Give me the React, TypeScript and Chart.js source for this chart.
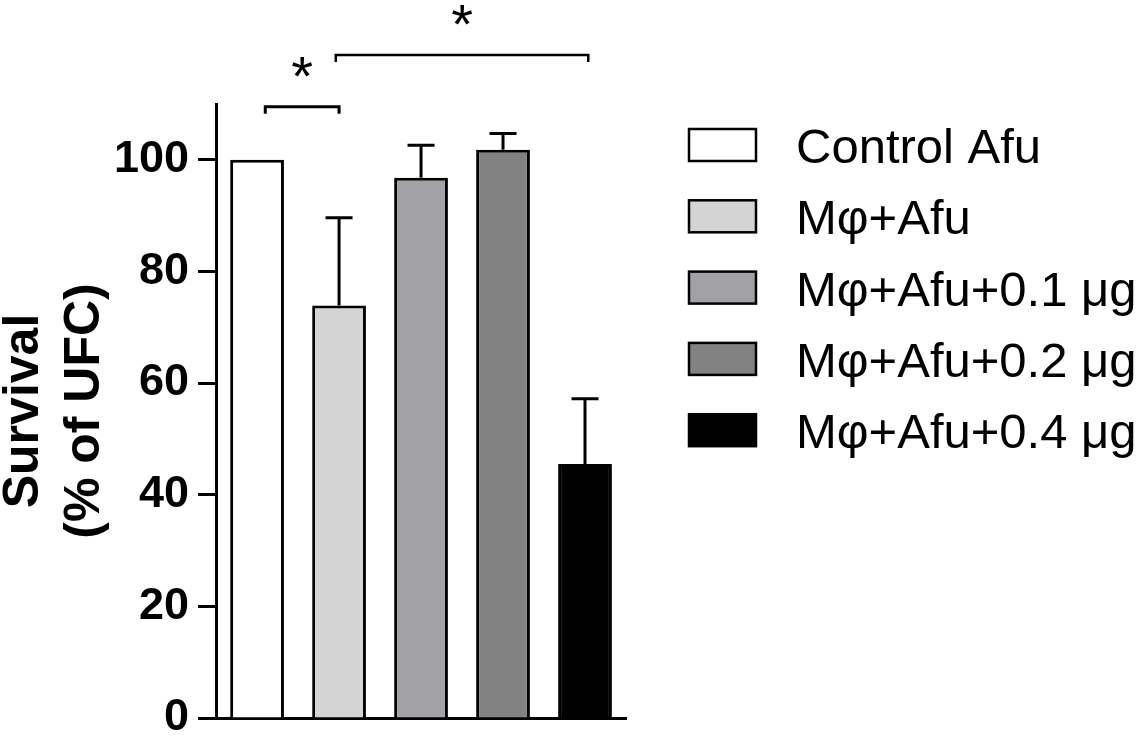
import { useEffect, useRef } from 'react';
import { Chart, registerables } from 'chart.js';

Chart.register(...registerables);

// ---- data ----
const categories = ['Control Afu', 'Mφ+Afu', 'Mφ+Afu+0.1 μg', 'Mφ+Afu+0.2 μg', 'Mφ+Afu+0.4 μg'];
const survival = [100, 73.9, 96.8, 101.8, 45.5];
const errors = [0, 15.7, 5.8, 2.9, 11.7];
const barColors = ['#ffffff', '#d4d4d4', '#a2a2a6', '#828282', '#000000'];
const yTicks = [0, 20, 40, 60, 80, 100];
const yTitle = ['Survival', '(% of UFC)'];
// significance brackets (category index positions, y value level)
const compFrom = [0.1, 0.96];
const compTo = [1.0, 4.04];
const compLevel = [109.5, 118.8];
const compLabel = ['*', '*'];

const FONT = 'Arial, "Liberation Sans", sans-serif';

const errorBarPlugin = {
  id: 'errorBars',
  afterDatasetsDraw(chart: any) {
    const ctx = chart.ctx;
    const meta = chart.getDatasetMeta(0);
    const y = chart.scales.y;
    ctx.save();
    ctx.strokeStyle = '#000';
    ctx.lineWidth = 3;
    meta.data.forEach((bar: any, i: number) => {
      if (!errors[i]) return;
      const top = y.getPixelForValue(survival[i] + errors[i]);
      const x = bar.x;
      ctx.beginPath();
      ctx.moveTo(x, bar.y);
      ctx.lineTo(x, top);
      ctx.moveTo(x - 13.5, top);
      ctx.lineTo(x + 13.5, top);
      ctx.stroke();
    });
    ctx.restore();
  },
};

const significancePlugin = {
  id: 'significance',
  afterDraw(chart: any) {
    const ctx = chart.ctx;
    const xs = chart.scales.x;
    const ys = chart.scales.y;
    ctx.save();
    ctx.strokeStyle = '#000';
    ctx.fillStyle = '#000';
    compLevel.forEach((lvl, i) => {
      const x1 = xs.getPixelForValue(compFrom[i]);
      const x2 = xs.getPixelForValue(compTo[i]);
      const yy = ys.getPixelForValue(lvl);
      ctx.lineWidth = i === 0 ? 3 : 2.5;
      ctx.beginPath();
      ctx.moveTo(x1, yy + 7);
      ctx.lineTo(x1, yy);
      ctx.lineTo(x2, yy);
      ctx.lineTo(x2, yy + 7);
      ctx.stroke();
      ctx.font = '56px ' + FONT;
      ctx.textAlign = 'center';
      ctx.textBaseline = 'alphabetic';
      const m = ctx.measureText(compLabel[i]);
      const cy = yy - 40;
      const base = cy + (m.actualBoundingBoxAscent - m.actualBoundingBoxDescent) / 2;
      ctx.fillText(compLabel[i], (x1 + x2) / 2, base);
    });
    ctx.restore();
  },
};

const sideLegendPlugin = {
  id: 'sideLegend',
  afterDraw(chart: any) {
    const ctx = chart.ctx;
    const x0 = chart.chartArea.right + 63;
    const y0 = 129;
    const boxW = 67;
    const boxH = 32;
    const step = 71.3;
    const textX = x0 + 107;
    ctx.save();
    ctx.font = '49px ' + FONT;
    ctx.textAlign = 'left';
    ctx.textBaseline = 'alphabetic';
    categories.forEach((label, i) => {
      const y = y0 + i * step;
      ctx.fillStyle = barColors[i];
      ctx.fillRect(x0, y, boxW, boxH);
      ctx.lineWidth = 2.5;
      ctx.strokeStyle = '#000';
      ctx.strokeRect(x0, y, boxW, boxH);
      ctx.fillStyle = '#000';
      ctx.fillText(label, textX, y + boxH + 2);
    });
    ctx.restore();
  },
};

export default function App() {
  const ref = useRef<HTMLCanvasElement>(null);
  useEffect(() => {
    if (!ref.current) return;
    const chart = new Chart(ref.current, {
      type: 'bar',
      data: {
        labels: categories,
        datasets: [
          {
            data: survival,
            backgroundColor: barColors,
            borderColor: '#000',
            borderWidth: 3,
            barPercentage: 0.656,
            categoryPercentage: 1,
          },
        ],
      },
      options: {
        animation: false,
        responsive: false,
        layout: { padding: { left: 0, top: 104, right: 516, bottom: 19 } },
        plugins: { legend: { display: false }, tooltip: { enabled: false } },
        scales: {
          x: {
            type: 'category',
            offset: true,
            z: 1,
            grid: { display: false, drawTicks: false },
            ticks: { display: false },
            border: { display: true, color: '#000', width: 3 },
          },
          y: {
            min: 0,
            max: 110,
            z: 1,
            afterBuildTicks: (scale: any) => {
              scale.ticks = yTicks.map((v) => ({ value: v }));
            },
            grid: {
              display: true,
              drawOnChartArea: false,
              drawTicks: true,
              tickLength: 18,
              tickWidth: 3,
              tickColor: '#000',
              color: '#000',
            },
            border: { display: true, color: '#000', width: 3 },
            ticks: {
              color: '#000',
              padding: 9,
              font: { family: FONT, size: 45, weight: 'bold', lineHeight: 0.4 },
            },
            title: {
              display: true,
              text: yTitle,
              color: '#000',
              font: { family: FONT, size: 50, weight: 'bold', lineHeight: 1.22 },
              padding: { top: -6, bottom: -11 },
            },
          },
        },
      } as any,
      plugins: [errorBarPlugin, significancePlugin, sideLegendPlugin],
    });
    return () => chart.destroy();
  }, []);
  return (
    <canvas
      ref={ref}
      width={1142}
      height={737}
      style={{ position: 'fixed', left: 0, top: 0, width: '1142px', height: '737px', display: 'block', background: '#fff' }}
    />
  );
}
